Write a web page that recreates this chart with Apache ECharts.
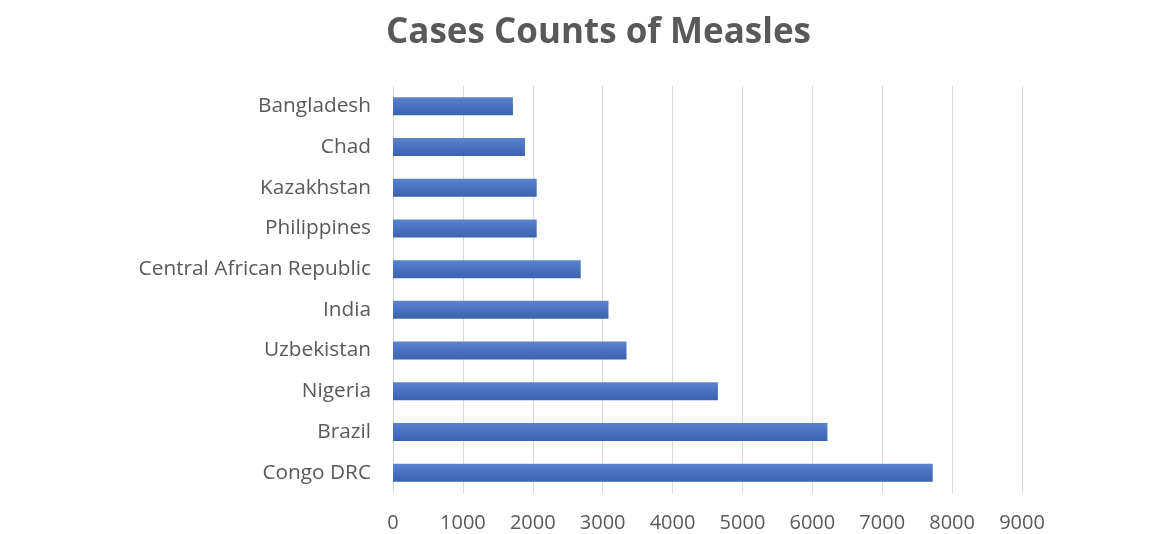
<!DOCTYPE html>
<html>
<head>
<meta charset="utf-8">
<script src="https://cdn.jsdelivr.net/npm/echarts@6/dist/echarts.min.js"></script>
<style>
    html, body { margin: 0; padding: 0; background: #fff; }
    #main { width: 1165px; height: 534px; }
</style>
</head>
<body>
<div id="main"></div>
<script>
// countries, top to bottom as in the picture
var countries = ['Bangladesh', 'Chad', 'Kazakhstan', 'Philippines', 'Central African Republic',
    'India', 'Uzbekistan', 'Nigeria', 'Brazil', 'Congo DRC'];
var cases = [1716, 1888, 2056, 2056, 2686, 3083, 3341, 4649, 6216, 7723];
var axisMax = 9000;
var axisStep = 1000;

var chart = echarts.init(document.getElementById('main'));

var option = {
    title: {
        text: 'Cases Counts of Measles',
        left: 381,
        top: 11,
        textStyle: {
            fontFamily: 'Open Sans',
            fontSize: 35,
            fontWeight: 'bold',
            color: '#595959'
        }
    },
    grid: {
        left: 393,
        right: 143,
        top: 86,
        bottom: 41
    },
    xAxis: {
        type: 'value',
        min: 0,
        max: axisMax,
        interval: axisStep,
        axisLine: {show: false},
        axisTick: {show: false},
        axisLabel: {
            margin: 20,
            fontFamily: 'Open Sans',
            fontSize: 20,
            color: '#595959',
            formatter: function (v) { return String(v); }
        },
        splitLine: {
            lineStyle: {color: '#d9d9d9', width: 1}
        }
    },
    yAxis: {
        type: 'category',
        inverse: true,
        data: countries,
        axisLine: {show: false},
        axisTick: {show: false},
        axisLabel: {
            margin: 22,
            fontFamily: 'Open Sans',
            fontSize: 20.8,
            color: '#595959'
        }
    },
    series: [
        {
            name: 'Cases',
            type: 'bar',
            barWidth: 18,
            data: cases,
            itemStyle: {
                color: new echarts.graphic.LinearGradient(0, 0, 0, 1, [
                    {offset: 0, color: '#5b84cd'},
                    {offset: 0.5, color: '#4872c0'},
                    {offset: 1, color: '#3b63ad'}
                ]),
                shadowColor: 'rgba(0,0,0,0.45)',
                shadowBlur: 4,
                shadowOffsetX: 2,
                shadowOffsetY: 3
            }
        }
    ]
};
chart.setOption(option);
</script>
</body>
</html>
